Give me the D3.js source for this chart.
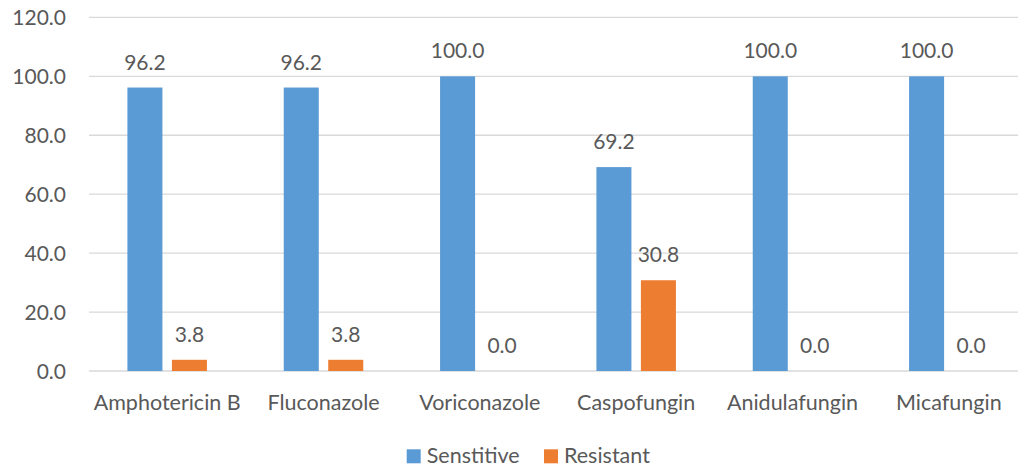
<!DOCTYPE html>
<html>
<head>
<meta charset="utf-8">
<script src="https://cdn.jsdelivr.net/npm/d3@7"></script>
<style>
  html, body { margin: 0; padding: 0; background: #fff; }
  svg { display: block; }
  text { font-family: Lato, "Open Sans", sans-serif; fill: #595959; }
</style>
</head>
<body>
<svg id="chart" width="1018" height="468"></svg>
<script>
// Susceptibility (%) by antifungal agent
const categories = ["Amphotericin B", "Fluconazole", "Voriconazole", "Caspofungin", "Anidulafungin", "Micafungin"];
const sensitive = [96.2, 96.2, 100.0, 69.2, 100.0, 100.0];
const resistant = [3.8, 3.8, 0.0, 30.8, 0.0, 0.0];
const seriesNames = ["Senstitive", "Resistant"];
const yTicks = [0, 20, 40, 60, 80, 100, 120];

const colors = ["#5B9BD5", "#ED7D31"];
const fontSize = 21.5;
const svg = d3.select("#chart");

const plot = { left: 89, right: 1027, top: 17.4, bottom: 371 };

const x = d3.scaleBand()
  .domain(categories)
  .range([plot.left, plot.right])
  .paddingInner(0)
  .paddingOuter(0);

const x1 = d3.scaleBand()
  .domain(seriesNames)
  .range([0, x.bandwidth()])
  .paddingInner(0.213)
  .paddingOuter(0.863);

const y = d3.scaleLinear()
  .domain([0, 120])
  .range([plot.bottom, plot.top]);

// horizontal gridlines
svg.append("g")
  .selectAll("line")
  .data(yTicks)
  .join("line")
  .attr("x1", plot.left)
  .attr("x2", plot.right)
  .attr("y1", d => y(d))
  .attr("y2", d => y(d))
  .attr("stroke", "#D9D9D9")
  .attr("stroke-width", 1.3);

// y axis labels
const yAxis = d3.axisLeft(y).tickValues(yTicks).tickFormat(d3.format(".1f")).tickSize(0).tickPadding(0);
const yg = svg.append("g").attr("transform", `translate(66,0)`).call(yAxis);
yg.select(".domain").remove();
yg.selectAll("text")
  .attr("font-size", 21)
  .attr("font-family", null)
  .attr("fill", "#595959")
  .attr("dy", "0.34em");

// x axis labels
const xAxis = d3.axisBottom(x).tickSize(0).tickPadding(0);
const xg = svg.append("g").attr("transform", `translate(0,${plot.bottom})`).call(xAxis);
xg.select(".domain").remove();
xg.selectAll("text")
  .attr("font-size", fontSize)
  .attr("font-family", null)
  .attr("fill", "#595959")
  .attr("dy", null)
  .attr("y", 39);

const rows = categories.map((c, i) => ({ cat: c, vals: [sensitive[i], resistant[i]] }));

const groups = svg.append("g")
  .selectAll("g")
  .data(rows)
  .join("g")
  .attr("transform", d => `translate(${x(d.cat)},0)`);

groups.selectAll("rect")
  .data(d => d.vals.map((v, j) => ({ key: seriesNames[j], v, j })))
  .join("rect")
  .attr("x", d => x1(d.key))
  .attr("width", x1.bandwidth())
  .attr("y", d => y(d.v))
  .attr("height", d => y(0) - y(d.v))
  .attr("fill", d => colors[d.j]);

groups.selectAll("text.val")
  .data(d => d.vals.map((v, j) => ({ key: seriesNames[j], v, j })))
  .join("text")
  .attr("class", "val")
  .attr("x", d => x1(d.key) + x1.bandwidth() / 2)
  .attr("y", d => y(d.v) - 18)
  .attr("text-anchor", "middle")
  .attr("font-size", 21)
  .text(d => d3.format(".1f")(d.v));

// legend
const legend = svg.append("g");
const legendX = [406.7, 544];
seriesNames.forEach((name, i) => {
  legend.append("rect")
    .attr("x", legendX[i])
    .attr("y", 449.3)
    .attr("width", 14)
    .attr("height", 14)
    .attr("fill", colors[i]);
  legend.append("text")
    .attr("x", legendX[i] + 20)
    .attr("y", 462.7)
    .attr("font-size", fontSize)
    .text(name);
});
</script>
</body>
</html>
